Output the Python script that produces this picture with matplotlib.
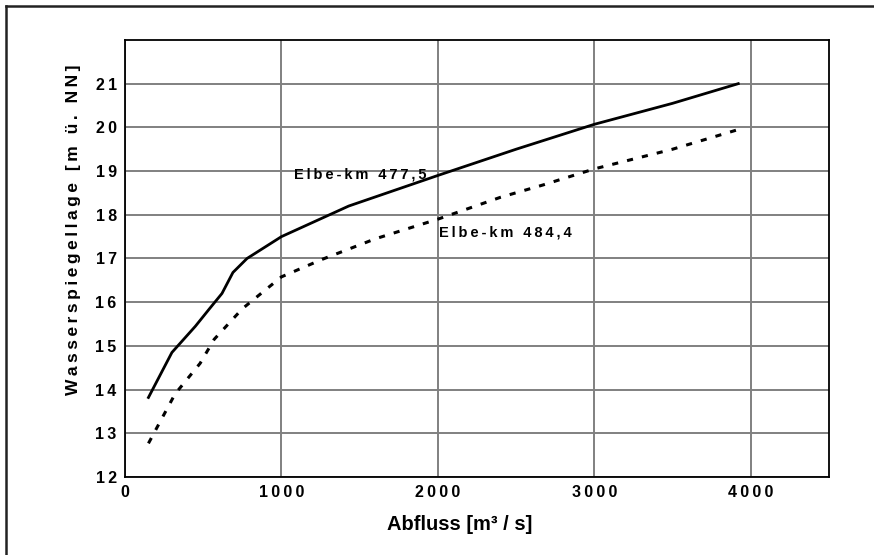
import matplotlib.pyplot as plt
import matplotlib.lines as mlines

# Abfluss [m3/s] and water level [m ü. NN]
q_4775 = [150, 300, 450, 540, 620, 690, 780, 1000, 1430, 2000, 2500, 3000, 3500, 3920]
h_4775 = [13.82, 14.85, 15.45, 15.85, 16.2, 16.68, 17.0, 17.5, 18.2, 18.9, 19.5, 20.07, 20.55, 21.0]

q_4844 = [150, 320, 480, 570, 750, 1000, 1260, 1600, 2000, 2400, 2670, 3000, 3500, 3920]
h_4844 = [12.77, 13.9, 14.6, 15.15, 15.85, 16.58, 16.98, 17.45, 17.9, 18.4, 18.68, 19.05, 19.5, 19.95]

x_ticks = [0, 1000, 2000, 3000, 4000]
y_ticks = list(range(12, 22))

label_4775 = "Elbe-km 477,5"
label_4844 = "Elbe-km 484,4"
x_title = "Abfluss [m³ / s]"
y_title = "Wasserspiegellage [m ü. NN]"

THIN = "\u2009"


def spaced(s):
    # the original has wide letter spacing
    return THIN.join(s)


plt.rcParams['font.family'] = ['Liberation Sans', 'DejaVu Sans']

fig = plt.figure(figsize=(8.74, 5.55), dpi=100)
ax = fig.add_axes([0.143, 0.1405, 0.8055, 0.7875])

# outer frame: only the top and left edges are inside the picture
fw, fh = 874.0, 555.0
fig.lines.append(mlines.Line2D([6 / fw, 1.0], [1 - 6 / fh, 1 - 6 / fh], transform=fig.transFigure,
                               color='#222222', linewidth=1.8))
fig.lines.append(mlines.Line2D([6 / fw, 6 / fw], [0.0, 1 - 6 / fh], transform=fig.transFigure,
                               color='#222222', linewidth=1.8))

ax.plot(q_4775, h_4775, color='black', linewidth=2.0, zorder=3)
ax.plot(q_4844, h_4844, color='black', linewidth=2.2, linestyle=(0, (2, 3)), zorder=3)

ax.text(1080, 18.93, spaced(label_4775), fontsize=10.5, fontweight='bold', va='center', ha='left', zorder=4)
ax.text(2010, 17.6, spaced(label_4844), fontsize=10.5, fontweight='bold', va='center', ha='left', zorder=4)

ax.set_xlim(0, 4500)
ax.set_ylim(12, 22)
ax.set_xticks(x_ticks)
ax.set_xticklabels([spaced(str(v)) for v in x_ticks])
ax.set_yticks(y_ticks)
ax.set_yticklabels([spaced(str(v)) for v in y_ticks])

ax.grid(True, color='#808080', linewidth=1.4, linestyle='-', zorder=1)
ax.set_axisbelow(True)

ax.tick_params(length=0, pad=6, labelsize=11.5)
for lbl in ax.get_xticklabels() + ax.get_yticklabels():
    lbl.set_fontweight('bold')

for sp in ax.spines.values():
    sp.set_linewidth(1.3)

ax.set_xlabel(x_title, fontsize=14.5, fontweight='bold')
ax.set_ylabel(spaced(y_title), fontsize=12.5, fontweight='bold')
ax.xaxis.set_label_coords(0.475, -0.088)
ax.yaxis.set_label_coords(-0.062, 0.565)

plt.savefig("out.png", dpi=100)
